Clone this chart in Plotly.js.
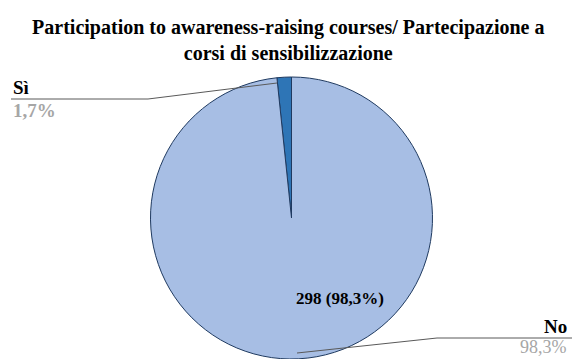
<!DOCTYPE html>
<html>
<head>
<meta charset="utf-8">
<script src="https://cdn.plot.ly/plotly-3.0.1.min.js"></script>
<style>html,body{margin:0;padding:0;background:#fff}#chart{width:572px;height:359px}</style>
</head>
<body>
<div id="chart"></div>
<script>
const categories = ['Sì', 'No'];
const counts = [5, 298];
const percentLabels = ['1,7%', '98,3%'];
const insideLabels = ['', '298 (98,3%)'];

const W = 572, H = 359;
const px = x => x / W;
const py = y => 1 - y / H;
const serif = 'Liberation Serif';
const total = counts.reduce((a, b) => a + b, 0);

const data = [{
  type: 'pie',
  labels: categories,
  values: counts,
  sort: false,
  direction: 'clockwise',
  rotation: -360 * counts[0] / total,
  textinfo: 'none',
  marker: {colors: ['#2E75B6', '#A7BEE4'], line: {color: '#1F3A60', width: 1}},
  domain: {x: [px(150.5), px(432.5)], y: [0, 282 / H]},
  hoverinfo: 'label+percent',
  showlegend: false
}];

const line = {color: '#595959', width: 1};
const layout = {
  width: W, height: H,
  margin: {l: 0, r: 0, t: 0, b: 0},
  paper_bgcolor: '#fff',
  title: {
    text: 'Participation to awareness-raising courses/ Partecipazione a<br>corsi di sensibilizzazione',
    font: {family: serif, size: 20, color: '#000', weight: 'bold'},
    x: 0.504, xanchor: 'center', y: py(34), yanchor: 'middle'
  },
  shapes: [
    {type: 'line', xref: 'paper', yref: 'paper', x0: px(277), y0: py(83), x1: px(148), y1: py(99), line},
    {type: 'line', xref: 'paper', yref: 'paper', x0: px(148), y0: py(99), x1: px(11), y1: py(99), line},
    {type: 'line', xref: 'paper', yref: 'paper', x0: px(297), y0: py(353), x1: px(437), y1: py(338), line},
    {type: 'line', xref: 'paper', yref: 'paper', x0: px(437), y0: py(338), x1: px(572), y1: py(338), line}
  ],
  annotations: [
    {xref: 'paper', yref: 'paper', x: px(340), y: py(298), xanchor: 'center', yanchor: 'middle', showarrow: false,
     text: insideLabels[1], font: {family: serif, size: 17, color: '#000', weight: 'bold'}},
    {xref: 'paper', yref: 'paper', x: px(11), y: py(88), xanchor: 'left', yanchor: 'middle', showarrow: false,
     text: categories[0], font: {family: serif, size: 19, color: '#000', weight: 'bold'}},
    {xref: 'paper', yref: 'paper', x: px(11), y: py(110), xanchor: 'left', yanchor: 'middle', showarrow: false,
     text: percentLabels[0], font: {family: serif, size: 19, color: '#A6A6A6', weight: 'bold'}},
    {xref: 'paper', yref: 'paper', x: px(569), y: py(326), xanchor: 'right', yanchor: 'middle', showarrow: false,
     text: categories[1], font: {family: serif, size: 19, color: '#000', weight: 'bold'}},
    {xref: 'paper', yref: 'paper', x: px(569), y: py(347), xanchor: 'right', yanchor: 'middle', showarrow: false,
     text: percentLabels[1], font: {family: serif, size: 18, color: '#A6A6A6'}}
  ]
};

Plotly.newPlot('chart', data, layout, {displayModeBar: false, staticPlot: true});
</script>
</body>
</html>
